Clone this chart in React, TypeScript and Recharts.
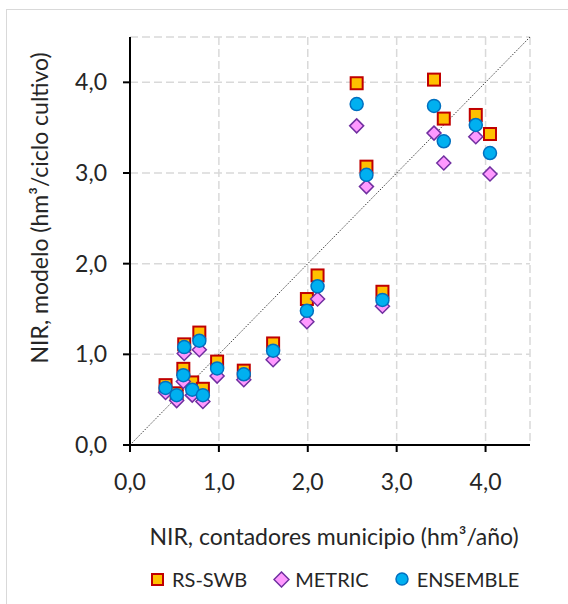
import React from 'react';
import {
  ScatterChart, Scatter, XAxis, YAxis, CartesianGrid, ReferenceLine, Label,
} from 'recharts';

const xValues = [0.40, 0.525, 0.60, 0.61, 0.70, 0.78, 0.82, 0.98, 1.28, 1.61, 1.99, 2.11, 2.55, 2.66, 2.84, 3.42, 3.53, 3.89, 4.05];
const rsSwb = [0.66, 0.57, 0.84, 1.11, 0.69, 1.24, 0.62, 0.92, 0.82, 1.12, 1.61, 1.87, 3.99, 3.07, 1.69, 4.03, 3.60, 3.64, 3.43];
const metric = [0.58, 0.49, 0.70, 1.01, 0.55, 1.05, 0.48, 0.76, 0.72, 0.94, 1.36, 1.61, 3.52, 2.85, 1.53, 3.44, 3.11, 3.40, 2.99];
const ensemble = [0.63, 0.55, 0.77, 1.08, 0.61, 1.15, 0.55, 0.845, 0.78, 1.04, 1.48, 1.75, 3.76, 2.98, 1.60, 3.74, 3.35, 3.53, 3.22];
const axisTicks = [0, 1, 2, 3, 4];
const seriesNames = ['RS-SWB', 'METRIC', 'ENSEMBLE'];
const xTitle = 'NIR, contadores municipio (hm³/año)';
const yTitle = 'NIR, modelo (hm³/ciclo cultivo)';

const toPoints = (ys: number[]) => xValues.map((x, i) => ({ x, y: ys[i] }));
const rsData = toPoints(rsSwb);
const metricData = toPoints(metric);
const ensData = toPoints(ensemble);

const FONT = 'Lato, "Open Sans", sans-serif';
const TEXT = '#262626';
const AXIS_FS = 23;

const SquareShape = (p: any) => (
  <rect x={p.cx - 6} y={p.cy - 6} width={12} height={12} fill="#FFC000" stroke="#C00000" strokeWidth={2} />
);
const DiamondShape = (p: any) => (
  <polygon
    points={`${p.cx},${p.cy - 7} ${p.cx + 7},${p.cy} ${p.cx},${p.cy + 7} ${p.cx - 7},${p.cy}`}
    fill="#FF99FF" stroke="#7030A0" strokeWidth={1.5}
  />
);
const CircleShape = (p: any) => (
  <circle cx={p.cx} cy={p.cy} r={6.5} fill="#00B0F0" stroke="#0070C0" strokeWidth={1.5} />
);

const fmt = (v: number) => v.toFixed(1).replace('.', ',');

const LegendBox = () => (
  <div style={{ position: 'absolute', left: 0, top: 567, width: 568, display: 'flex', alignItems: 'center', paddingLeft: 151, boxSizing: 'border-box', fontFamily: FONT, fontSize: 20, color: TEXT, height: 24 }}>
    <div style={{ display: 'flex', alignItems: 'center' }}>
      <svg width={13} height={13}><rect x={1} y={1} width={11} height={11} fill="#FFC000" stroke="#C00000" strokeWidth={2} /></svg>
      <span style={{ marginLeft: 8 }}>{seriesNames[0]}</span>
    </div>
    <div style={{ display: 'flex', alignItems: 'center', marginLeft: 26 }}>
      <svg width={17} height={17}><polygon points="8.5,1 16,8.5 8.5,16 1,8.5" fill="#FF99FF" stroke="#7030A0" strokeWidth={1.5} /></svg>
      <span style={{ marginLeft: 5 }}>{seriesNames[1]}</span>
    </div>
    <div style={{ display: 'flex', alignItems: 'center', marginLeft: 26 }}>
      <svg width={14} height={14}><circle cx={7} cy={7} r={6} fill="#00B0F0" stroke="#0070C0" strokeWidth={1.5} /></svg>
      <span style={{ marginLeft: 8 }}>{seriesNames[2]}</span>
    </div>
  </div>
);

export default function App() {
  return (
    <div style={{ position: 'absolute', left: 0, top: 0, width: 568, height: 604, background: '#fff' }}>
      <div style={{ position: 'absolute', left: 6, top: 9, width: 561, height: 594, borderLeft: '1px solid #d9d9d9', borderTop: '1px solid #d9d9d9' }} />
      <ScatterChart width={568} height={604} margin={{ top: 37, right: 38, bottom: 99, left: 0 }}>
        <CartesianGrid stroke="#d9d9d9" strokeWidth={1.5} strokeDasharray="8 4" />
        <XAxis
          type="number" dataKey="x" domain={[0, 4.5]} ticks={axisTicks} tickFormatter={fmt}
          height={60} axisLine={{ stroke: '#000', strokeWidth: 2 }} tickLine={{ stroke: '#000', strokeWidth: 2 }}
          tickSize={7} tickMargin={22} tick={{ fill: TEXT, fontSize: AXIS_FS, fontFamily: FONT }} allowDataOverflow
        >
          <Label
            content={(props: any) => {
              const vb = props.viewBox;
              return (
                <text x={vb.x + vb.width / 2 + 4} y={536} textAnchor="middle" dominantBaseline="central" fill={TEXT} fontSize={AXIS_FS} fontFamily={FONT}>
                  {xTitle}
                </text>
              );
            }}
          />
        </XAxis>
        <YAxis
          type="number" dataKey="y" domain={[0, 4.5]} ticks={axisTicks} tickFormatter={fmt}
          width={130} axisLine={{ stroke: '#000', strokeWidth: 2 }} tickLine={{ stroke: '#000', strokeWidth: 2 }}
          tickSize={7} tickMargin={16} tick={{ fill: TEXT, fontSize: AXIS_FS, fontFamily: FONT }} allowDataOverflow
        >
          <Label
            content={() => (
              <text x={39} y={208} transform="rotate(-90 39 208)" textAnchor="middle" dominantBaseline="central" fill={TEXT} fontSize={AXIS_FS} fontFamily={FONT}>
                {yTitle}
              </text>
            )}
          />
        </YAxis>
        <ReferenceLine segment={[{ x: 0, y: 0 }, { x: 4.5, y: 4.5 }]} stroke="#404040" strokeWidth={1} strokeDasharray="1.5 1.5" ifOverflow="visible" />
        <Scatter name={seriesNames[0]} data={rsData} shape={SquareShape} isAnimationActive={false} />
        <Scatter name={seriesNames[1]} data={metricData} shape={DiamondShape} isAnimationActive={false} />
        <Scatter name={seriesNames[2]} data={ensData} shape={CircleShape} isAnimationActive={false} />
      </ScatterChart>
      <LegendBox />
    </div>
  );
}
